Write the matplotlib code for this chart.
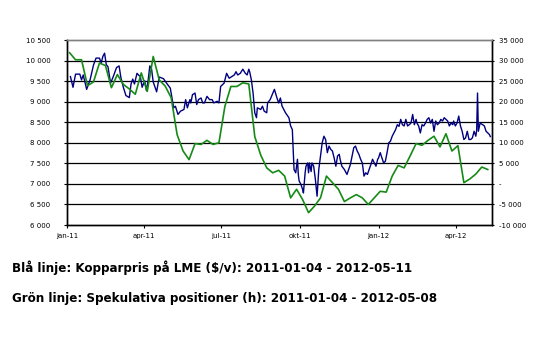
import numpy as np
import pandas as pd
import matplotlib
matplotlib.use('Agg')
import matplotlib.pyplot as plt
import matplotlib.font_manager as fm
from matplotlib.ticker import FixedLocator, FuncFormatter

# copper price on LME ($/t), left axis; day = days after 2011-01-01
BLUE_DAY = [4, 7, 10, 15, 17, 19, 23, 27, 31, 34, 38, 40, 42, 44, 46, 48, 51, 54,
            58, 61, 63, 66, 69, 73, 75, 77, 79, 82, 86, 88, 91, 93, 95, 97, 99,
            101, 105, 108, 113, 117,
            121, 125, 127, 130, 133, 137, 139, 141, 144, 145, 147, 150, 152, 154,
            157, 159, 161, 164, 167, 170, 172, 176, 178, 180, 184, 185, 187, 190,
            193, 196, 198, 200, 203, 206, 209, 211, 213, 214, 216, 218, 220, 222,
            223, 227, 229, 231, 234, 235, 238,
            242, 243, 246, 248, 250, 252, 256, 260, 262, 264, 265, 266, 268, 270,
            271, 272, 274, 276, 277, 279, 280, 282, 283, 284, 286, 287, 289, 291,
            293, 295, 297, 299, 301, 303, 305, 307, 309, 311, 313, 315, 317, 319,
            320, 322, 325, 328, 330, 332, 334, 336, 338, 340, 342, 344, 346, 348,
            350, 352, 354, 356, 358, 360, 362, 364, 365, 367, 369, 371, 373, 375,
            377, 379, 381, 383, 385, 387, 389, 391, 393, 395, 397, 399, 401, 403,
            405, 407, 409, 410, 412, 414, 416, 418, 420, 422, 424, 426, 428, 430,
            432, 434, 436, 438, 440, 442, 444, 446, 448, 450, 452, 453, 455, 457,
            459, 461, 463, 465, 467, 469, 471, 473, 475, 477, 479, 480, 481, 482,
            484, 487, 489, 491, 493, 495, 496]
BLUE_VAL = [9610, 9350, 9670, 9670, 9530, 9650, 9300, 9530, 9890, 10060, 10060,
            9940, 10100, 10180, 9900, 9850, 9450, 9600, 9830, 9870, 9600, 9350,
            9150, 9100, 9430, 9550, 9430, 9690, 9600, 9350, 9510, 9270, 9510,
            9870, 9800, 9480, 9240, 9600, 9560, 9440,
            9330, 8850, 8890, 8690, 8770, 8810, 9050, 8850, 9050, 8970, 9170,
            9210, 8930, 9050, 9090, 8970, 8970, 9130, 9050, 9050, 8970, 9010,
            8970, 9370, 9450, 9530, 9690, 9570, 9610, 9650, 9730, 9650, 9690,
            9790, 9690, 9650, 9790, 9730, 9530, 9210, 8730, 8610, 8850, 8810,
            8890, 8770, 8730, 8970, 9050,
            9250, 9300, 9090, 8970, 9090, 8890, 8730, 8610, 8410, 8320, 7840,
            7350, 7270, 7600, 7230, 7070, 6990, 6870, 6780, 7270, 7430, 7510,
            7270, 7510, 7300, 7510, 7430, 7110, 6700, 7350, 7680, 8000, 8160,
            8080, 7760, 7920, 7840, 7800, 7630, 7430, 7680, 7720, 7600, 7430,
            7350, 7230, 7350, 7470, 7680, 7880, 7920, 7800, 7720, 7600, 7510,
            7190, 7270, 7230, 7350, 7470, 7600, 7510, 7430, 7600, 7630, 7760,
            7630, 7510, 7550, 7760, 8000, 8040, 8160, 8240, 8320, 8440, 8400,
            8570, 8440, 8410, 8570, 8410, 8440, 8480, 8690, 8440, 8570, 8480,
            8410, 8240, 8440, 8410, 8480, 8570, 8610, 8480, 8570, 8280, 8530,
            8440, 8480, 8570, 8530, 8610, 8570, 8530, 8410, 8480, 8440, 8530,
            8410, 8480, 8650, 8410, 8280, 8080, 8120, 8280, 8080, 8080, 8120,
            8280, 8160, 8300, 9210, 8280, 8480, 8440, 8410, 8280, 8240, 8200,
            8150]

# speculative positions, weekly (right axis)
GREEN_START = '2011-01-04'
GREEN_END = '2012-05-08'
GREEN_VAL = [31900, 30200, 30200, 23900, 24800, 29400, 28800, 23400, 26600,
             24200, 23100, 21800, 27000, 22500, 31000, 25300, 23800, 21000,
             12000, 8000, 5900, 9800, 9600, 10600, 9600, 10000, 18900, 23700,
             23700, 24600, 24300, 11500, 7000, 3900, 2700, 3300, 1900, -3400,
             -1300, -3800, -7000, -5400, -3400, 1900, 300, -1300, -4300, -3400,
             -2600, -3400, -5000, -3400, -1800, -2000, 1900, 4500, 3900, 6800,
             9800, 9400, 10600, 11600, 9000, 12200, 8000, 9300, 300, 1200, 2400,
             4100, 3500]

TICK_DATES = ['2011-01-01', '2011-04-01', '2011-07-01', '2011-10-01',
              '2012-01-01', '2012-04-01']
TICK_LABELS = ['jan-11', 'apr-11', 'jul-11', 'okt-11', 'jan-12', 'apr-12']
LEFT_TICKS = np.arange(6000, 10501, 500)
RIGHT_TICKS = np.arange(-10000, 35001, 5000)

CAPTION1 = 'Blå linje: Kopparpris på LME ($/v): 2011-01-04 - 2012-05-11'
CAPTION2 = 'Grön linje: Spekulativa positioner (h): 2011-01-04 - 2012-05-08'

plt.rcParams['font.family'] = ['DejaVu Sans']

# pick a narrow face for the captions if one is around
names = {f.name for f in fm.fontManager.ttflist}
cond = [f for f in fm.fontManager.ttflist
        if 'ondensed' in f.name or 'Narrow' in f.name
        or str(f.stretch) in ('condensed', 'semi-condensed', '500', '300')]
cap_font = dict(family=['DejaVu Sans'])
if 'Liberation Sans Narrow' in names:
    cap_font = dict(family=['Liberation Sans Narrow', 'DejaVu Sans'])
elif cond:
    cap_font = dict(family=[cond[0].name, 'DejaVu Sans'],
                    stretch=cond[0].stretch)

base = np.datetime64('2011-01-01')
blue_x = base + np.array(BLUE_DAY).astype('timedelta64[D]')
green_x = pd.date_range(GREEN_START, GREEN_END, freq='7D')


def thousands(v, pos=None):
    v = int(round(v))
    if v == 0:
        return '-'
    return f'{v:,}'.replace(',', ' ')


fig = plt.figure(figsize=(5.59, 3.45), dpi=100)
ax = fig.add_axes([0.1199, 0.3478, 0.7603, 0.5362])
ax2 = ax.twinx()

for y in LEFT_TICKS[1:-1]:
    ax.axhline(y, color='black', lw=0.9, zorder=1)

ax.plot(blue_x, BLUE_VAL, color='#000080', lw=1.0, zorder=3)
ax2.plot(green_x, GREEN_VAL, color='#168a16', lw=1.2, zorder=2)

ax.set_xlim(base, base + np.timedelta64(498, 'D'))
ax.set_ylim(6000, 10500)
ax2.set_ylim(-10000, 35000)

ax.set_xticks(pd.to_datetime(TICK_DATES))
ax.set_xticklabels(TICK_LABELS)
ax.yaxis.set_major_locator(FixedLocator(LEFT_TICKS))
ax.yaxis.set_major_formatter(FuncFormatter(thousands))
ax2.yaxis.set_major_locator(FixedLocator(RIGHT_TICKS))
ax2.yaxis.set_major_formatter(FuncFormatter(thousands))

ax.tick_params(axis='x', length=2.5, width=0.8, pad=3.5, labelsize=5)
ax.tick_params(axis='y', length=2.5, width=0.8, pad=9.5, labelsize=5)
ax2.tick_params(axis='y', length=1.5, width=0.8, pad=3.5, labelsize=5)

for a in (ax, ax2):
    for s in ('left', 'right', 'bottom'):
        a.spines[s].set_color('black')
        a.spines[s].set_linewidth(1.0)
    a.spines['top'].set_color('#808080')
    a.spines['top'].set_linewidth(1.0)

# captions, sized so each line spans about as wide as in the original
t1 = fig.text(0.0215, 0.223, CAPTION1, fontsize=11, fontweight='bold',
              va='center', ha='left', **cap_font)
t2 = fig.text(0.0215, 0.136, CAPTION2, fontsize=11, fontweight='bold',
              va='center', ha='left', **cap_font)
renderer = fig.canvas.get_renderer()
w1 = t1.get_window_extent(renderer).width
size = min(11.5, 11 * 400 / w1)
t1.set_fontsize(size)
t2.set_fontsize(size)

fig.savefig('out.png', dpi=100)
